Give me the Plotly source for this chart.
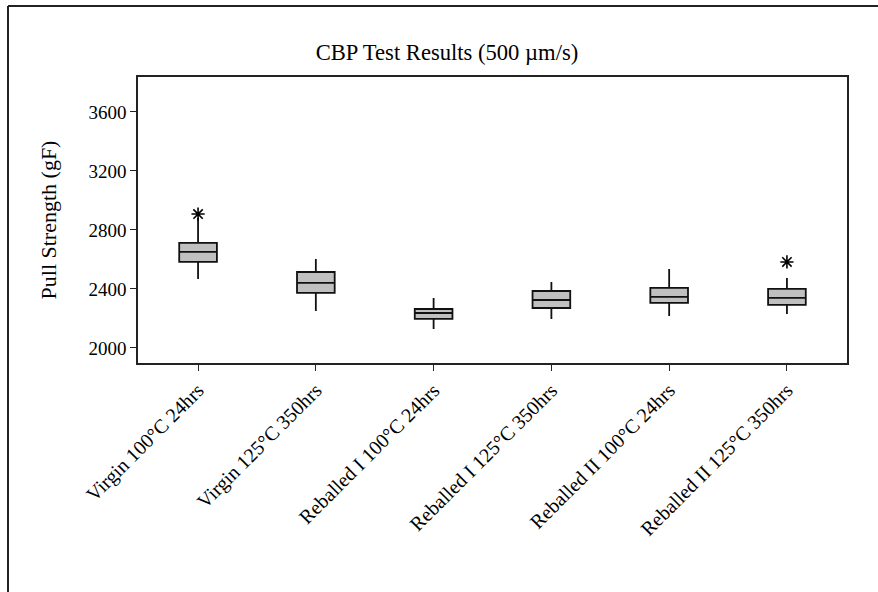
import plotly.graph_objects as go

categories = ["Virgin 100°C 24hrs", "Virgin 125°C 350hrs", "Reballed I 100°C 24hrs",
              "Reballed I 125°C 350hrs", "Reballed II 100°C 24hrs", "Reballed II 125°C 350hrs"]
lower_whisker = [2468, 2251, 2129, 2197, 2217, 2230]
q1 = [2583, 2373, 2197, 2271, 2305, 2292]
median = [2651, 2441, 2237, 2325, 2346, 2339]
q3 = [2712, 2515, 2264, 2386, 2407, 2400]
upper_whisker = [2881, 2603, 2339, 2447, 2536, 2474]
outlier_cat = ["Virgin 100°C 24hrs", "Reballed II 125°C 350hrs"]
outlier_val = [2908, 2583]
yticks = [2000, 2400, 2800, 3200, 3600]

FONT = "Liberation Serif, Times New Roman, serif"

fig = go.Figure()
fig.add_trace(go.Box(
    x=categories, q1=q1, median=median, q3=q3,
    lowerfence=lower_whisker, upperfence=upper_whisker,
    width=0.32, fillcolor="#c0c0c0",
    line=dict(color="#111", width=1.8),
    whiskerwidth=0, boxpoints=False, showlegend=False, hoverinfo="skip"))
fig.add_trace(go.Scatter(
    x=outlier_cat, y=outlier_val, mode="markers",
    marker=dict(symbol="asterisk-open", size=11, color="black",
                line=dict(color="black", width=1.6)),
    showlegend=False))

L, R, T, B = 138, 31, 77, 229
W, H = 878, 592
pw, ph = W - L - R, H - T - B


def px(xp):
    return (xp - L) / pw


def py(yp):
    return (H - B - yp) / ph


fig.add_shape(type="line", xref="paper", yref="paper",
              x0=px(8), x1=px(8), y0=py(6), y1=py(600),
              line=dict(color="#222", width=2))
fig.add_shape(type="line", xref="paper", yref="paper",
              x0=px(8), x1=px(890), y0=py(6), y1=py(6),
              line=dict(color="#222", width=2))

fig.update_layout(
    width=W, height=H,
    margin=dict(l=L, r=R, t=T, b=B),
    paper_bgcolor="white", plot_bgcolor="white",
    font=dict(family=FONT, size=19, color="black"),
    title=dict(text="CBP Test Results (500 µm/s)", x=447 / W, xanchor="center",
               y=1 - 52 / H, yanchor="middle", font=dict(family=FONT, size=22.6, color="black")),
    xaxis=dict(type="category", range=[-0.51, 5.51], tickangle=-45,
               showline=True, linecolor="#222", linewidth=1.6, mirror=True,
               ticks="outside", ticklen=6, tickcolor="#222", tickwidth=1.3,
               showgrid=False, zeroline=False, tickfont=dict(family=FONT, size=20)),
    yaxis=dict(range=[1898, 3837], tickvals=yticks,
               showline=True, linecolor="#222", linewidth=1.6, mirror=True,
               ticks="outside", ticklen=6, tickcolor="#222", tickwidth=1.3,
               showgrid=False, zeroline=False, tickfont=dict(family=FONT, size=19),
               title=dict(text="Pull Strength (gF)", font=dict(family=FONT, size=22), standoff=26)),
)

fig.write_html("out.html")
